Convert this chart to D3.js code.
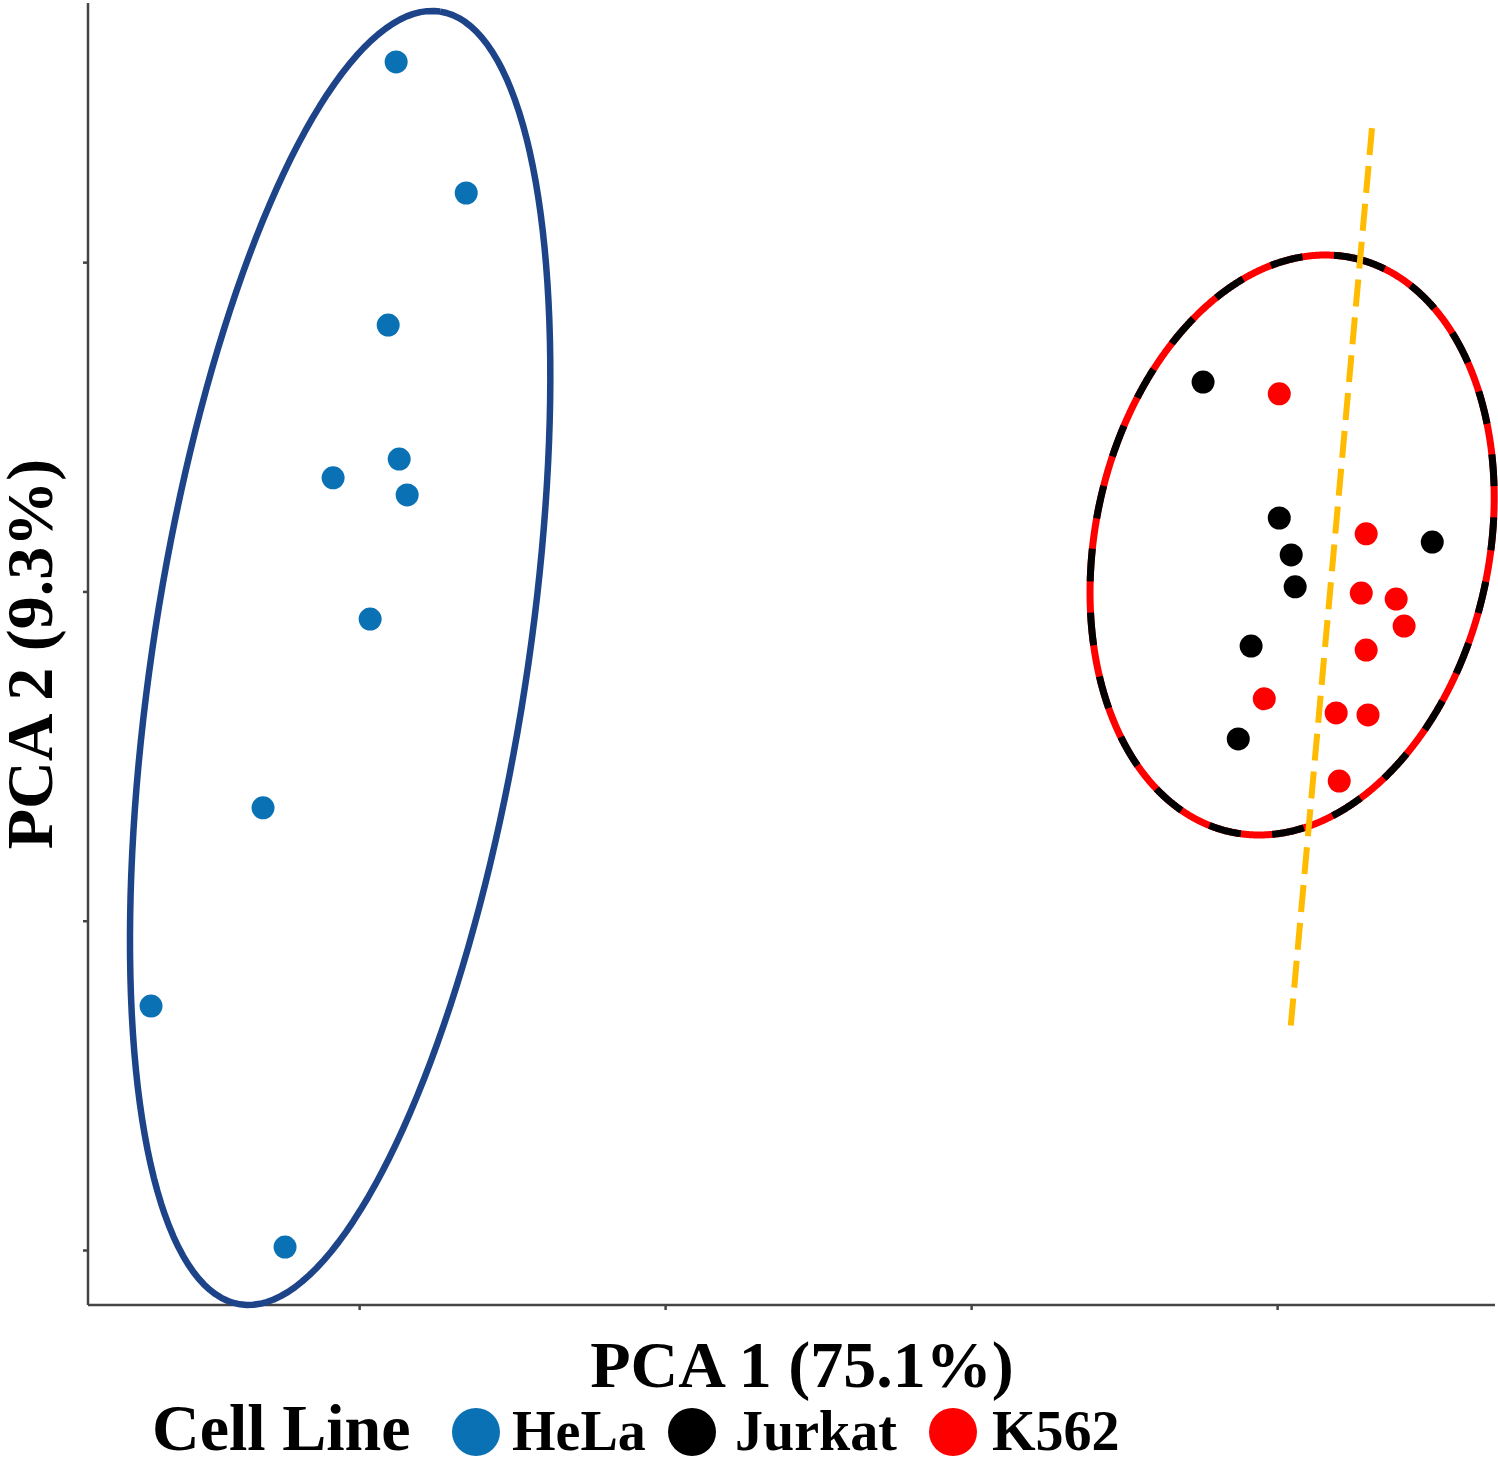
<!DOCTYPE html>
<html>
<head>
<meta charset="utf-8">
<script src="https://cdn.jsdelivr.net/npm/d3@7"></script>
<style>
  html, body { margin: 0; padding: 0; background: #fff; }
  svg { display: block; }
  text { font-family: "Liberation Serif", "Times New Roman", serif; font-weight: bold; fill: #000; }
</style>
</head>
<body>
<svg id="chart" width="1498" height="1458"></svg>
<script>
// PCA scores (arbitrary units)
const hela = [
  [-8.79, 16.08], [-6.50, 12.10], [-9.05, 8.09], [-8.69, 4.02], [-10.85, 3.45],
  [-8.43, 2.93], [-9.64, -0.84], [-13.14, -6.57], [-16.80, -12.59], [-12.42, -19.91]
];
const jurkat = [
  [17.58, 6.36], [20.07, 2.23], [20.46, 1.11], [20.59, 0.14], [25.07, 1.50],
  [19.15, -1.66], [18.73, -4.48]
];
const k562 = [
  [20.07, 6.00], [22.91, 1.75], [22.75, -0.05], [23.89, -0.23], [24.15, -1.05],
  [22.91, -1.78], [19.58, -3.26], [21.93, -3.69], [22.97, -3.75], [22.03, -5.76]
];

// confidence ellipses: centre, major semi-axis vector, minor semi-axis vector
const helaEllipse = { c: [-10.62, -2.02], u: [3.27, 19.63], v: [6.04, -0.87] };
const bloodEllipse = { c: [20.49, 1.41], u: [1.98, 8.72], v: [6.30, -1.23] };

// separating line between Jurkat and K562
const splitLine = [[23.10, 14.07], [20.42, -13.46]];

const xTicks = [-10, 0, 10, 20];
const yTicks = [10, 0, -10, -20];

const legendItems = [
  { name: "HeLa", color: "#0a72b4" },
  { name: "Jurkat", color: "#000000" },
  { name: "K562", color: "#ff0000" }
];

const svg = d3.select("#chart");
const plotLeft = 88, plotRight = 1495, plotTop = 3, plotBottom = 1305;

const x = d3.scaleLinear().domain([-18.86, 27.12]).range([plotLeft, plotRight]);
const y = d3.scaleLinear().domain([-21.67, 17.87]).range([plotBottom, plotTop]);

function ellipsePoints(e, step = 2) {
  return d3.range(0, 360 + step / 2, step).map((deg) => {
    const t = (deg * Math.PI) / 180;
    return [
      e.c[0] + Math.cos(t) * e.u[0] + Math.sin(t) * e.v[0],
      e.c[1] + Math.cos(t) * e.u[1] + Math.sin(t) * e.v[1]
    ];
  });
}

const line = d3.line().x((d) => x(d[0])).y((d) => y(d[1]));

// axes
const axisColor = "#444";
svg.append("g")
  .attr("transform", `translate(0,${plotBottom})`)
  .call(d3.axisBottom(x).tickValues(xTicks).tickSize(5).tickFormat(""))
  .call((g) => g.select(".domain").attr("d", `M${plotLeft},0H${plotRight}`))
  .call((g) => g.selectAll("path, line").attr("stroke", axisColor).attr("stroke-width", 2.5));

svg.append("g")
  .attr("transform", `translate(${plotLeft},0)`)
  .call(d3.axisLeft(y).tickValues(yTicks).tickSize(5).tickFormat(""))
  .call((g) => g.select(".domain").attr("d", `M0,${plotTop}V${plotBottom}`))
  .call((g) => g.selectAll("path, line").attr("stroke", axisColor).attr("stroke-width", 2.5));

// HeLa ellipse
svg.append("path")
  .attr("d", line(ellipsePoints(helaEllipse)))
  .attr("fill", "none")
  .attr("stroke", "#1d4489")
  .attr("stroke-width", 6.5)
  .attr("stroke-linejoin", "round");

// Jurkat / K562 ellipse: red base with black dashes cut by screen length
const bloodPts = ellipsePoints(bloodEllipse, 0.25);
svg.append("path")
  .attr("d", line(bloodPts))
  .attr("fill", "none")
  .attr("stroke", "#ff0000")
  .attr("stroke-width", 7)
  .attr("stroke-linejoin", "round");

const dashOn = 34, dashOff = 30;
const dashes = [];
let run = 0, current = [bloodPts[0]];
for (let i = 1; i < bloodPts.length; i++) {
  const p = bloodPts[i - 1], q = bloodPts[i];
  run += Math.hypot(x(q[0]) - x(p[0]), y(q[1]) - y(p[1]));
  const phase = run % (dashOn + dashOff);
  if (phase < dashOn) {
    current.push(q);
  } else if (current.length) {
    if (current.length > 1) dashes.push(current);
    current = [];
  }
  if (phase >= dashOn && i + 1 < bloodPts.length) {
    const nextPhase = (run + 0.0001) % (dashOn + dashOff);
    if (nextPhase < dashOn) current = [q];
  }
}
if (current.length > 1) dashes.push(current);

svg.append("g")
  .selectAll("path")
  .data(dashes)
  .join("path")
  .attr("d", (d) => line(d))
  .attr("fill", "none")
  .attr("stroke", "#000")
  .attr("stroke-width", 7);

// points
const groups = [
  { data: hela, color: legendItems[0].color },
  { data: jurkat, color: legendItems[1].color },
  { data: k562, color: legendItems[2].color }
];
groups.forEach((grp) => {
  svg.append("g")
    .selectAll("circle")
    .data(grp.data)
    .join("circle")
    .attr("cx", (d) => x(d[0]))
    .attr("cy", (d) => y(d[1]))
    .attr("r", 11.5)
    .attr("fill", grp.color);
});

// yellow split line
svg.append("path")
  .attr("d", line(splitLine))
  .attr("fill", "none")
  .attr("stroke", "#ffbb00")
  .attr("stroke-width", 6)
  .attr("stroke-dasharray", "27 11");

// axis titles
svg.append("text")
  .attr("x", 802)
  .attr("y", 1387)
  .attr("text-anchor", "middle")
  .attr("font-size", 66)
  .text("PCA 1 (75.1%)");

svg.append("text")
  .attr("transform", "translate(52,654) rotate(-90)")
  .attr("text-anchor", "middle")
  .attr("font-size", 66)
  .text("PCA 2 (9.3%)");

// legend
svg.append("text")
  .attr("x", 152)
  .attr("y", 1450)
  .attr("font-size", 66)
  .text("Cell Line");

const legendX = [476, 692, 953];
const legendTextX = [512, 735, 992];
legendItems.forEach((item, i) => {
  svg.append("circle")
    .attr("cx", legendX[i])
    .attr("cy", 1432)
    .attr("r", 24)
    .attr("fill", item.color);
  svg.append("text")
    .attr("x", legendTextX[i])
    .attr("y", 1450)
    .attr("font-size", 56)
    .text(item.name);
});
</script>
</body>
</html>
